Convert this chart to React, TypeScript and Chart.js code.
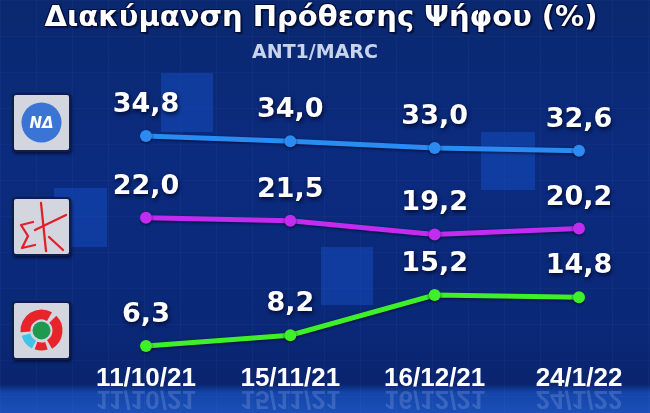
import React, { useEffect, useRef } from "react";
import { Chart, registerables } from "chart.js";

Chart.register(...registerables);

// ---- data ----
const dates = ["11/10/21", "15/11/21", "16/12/21", "24/1/22"];
const ndValues = [34.8, 34.0, 33.0, 32.6];
const syrizaValues = [22.0, 21.5, 19.2, 20.2];
const pasokValues = [6.3, 8.2, 15.2, 14.8];
const titleText = "Διακύμανση Πρόθεσης Ψήφου (%)";
const sourceText = "ANT1/MARC";

const TICK_PAD = 5;

const valueLabels = {
  id: "valueLabels",
  afterDatasetsDraw(chart: any) {
    const ctx = chart.ctx;
    ctx.save();
    ctx.font = "bold 27px 'DejaVu Sans'";
    ctx.textAlign = "center";
    ctx.textBaseline = "middle";
    ctx.fillStyle = "#ffffff";
    ctx.shadowColor = "rgba(0,5,40,0.95)";
    ctx.shadowBlur = 4;
    ctx.shadowOffsetX = 1;
    ctx.shadowOffsetY = 2;
    chart.data.datasets.forEach((ds: any, i: number) => {
      const meta = chart.getDatasetMeta(i);
      meta.data.forEach((pt: any, j: number) => {
        const v = ds.data[j] as number;
        ctx.fillText(v.toFixed(1).replace(".", ","), pt.x, pt.y - 31);
      });
    });
    ctx.restore();
  },
};

const reflection = {
  id: "reflection",
  afterDraw(chart: any) {
    const xs = chart.scales.x;
    const ctx = chart.ctx;
    ctx.save();
    ctx.font = "bold 26px 'Liberation Sans'";
    ctx.textAlign = "center";
    ctx.textBaseline = "middle";
    ctx.fillStyle = "rgba(190,210,255,0.2)";
    const center = xs.top + TICK_PAD + 13.6;
    xs.ticks.forEach((t: any, i: number) => {
      const x = xs.getPixelForTick(i);
      ctx.save();
      ctx.translate(x, center + 21);
      ctx.scale(1, -1);
      ctx.fillText(String(chart.data.labels[i]), 0, 0);
      ctx.restore();
    });
    ctx.restore();
  },
};

const lineShadow = {
  id: "lineShadow",
  beforeDatasetsDraw(chart: any) {
    const ctx = chart.ctx;
    ctx.save();
    ctx.shadowColor = "rgba(0,0,30,0.7)";
    ctx.shadowBlur = 3;
    ctx.shadowOffsetY = 1;
  },
  afterDatasetsDraw(chart: any) {
    chart.ctx.restore();
  },
};

function arcPath(cx: number, cy: number, r: number, a0: number, a1: number) {
  const rad = (d: number) => (d * Math.PI) / 180;
  const x0 = cx + r * Math.cos(rad(a0));
  const y0 = cy + r * Math.sin(rad(a0));
  const x1 = cx + r * Math.cos(rad(a1));
  const y1 = cy + r * Math.sin(rad(a1));
  const large = a1 - a0 > 180 ? 1 : 0;
  return `M ${x0} ${y0} A ${r} ${r} 0 ${large} 1 ${x1} ${y1}`;
}

const boxStyle = (top: number): React.CSSProperties => ({
  position: "absolute",
  left: 12,
  top,
  width: 59,
  height: 59,
  boxSizing: "border-box",
  background: "#d3d6de",
  border: "2px solid #0d1d50",
  borderRadius: 4,
  boxShadow: "1px 2px 3px rgba(0,0,20,0.6)",
});

const squareStyle = (l: number, t: number, r: number, b: number): React.CSSProperties => ({
  position: "absolute",
  left: l,
  top: t,
  width: r - l,
  height: b - t,
  background: "rgba(25,85,210,0.42)",
});

export default function App() {
  const ref = useRef<HTMLCanvasElement>(null);

  useEffect(() => {
    const chart = new Chart(ref.current as HTMLCanvasElement, {
      type: "line",
      data: {
        labels: dates,
        datasets: [
          {
            label: "ΝΔ",
            data: ndValues,
            yAxisID: "yND",
            borderColor: "#2a8cf2",
            backgroundColor: "#2a8cf2",
            pointBackgroundColor: "#2a8cf2",
            borderWidth: 5,
            pointRadius: 6,
            pointBorderWidth: 0,
            tension: 0,
          },
          {
            label: "ΣΥΡΙΖΑ",
            data: syrizaValues,
            yAxisID: "ySY",
            borderColor: "#c22cf0",
            backgroundColor: "#c22cf0",
            pointBackgroundColor: "#c22cf0",
            borderWidth: 5,
            pointRadius: 6,
            pointBorderWidth: 0,
            tension: 0,
          },
          {
            label: "ΚΙΝΑΛ",
            data: pasokValues,
            yAxisID: "yPA",
            borderColor: "#3ef02a",
            backgroundColor: "#3ef02a",
            pointBackgroundColor: "#3ef02a",
            borderWidth: 5,
            pointRadius: 6,
            pointBorderWidth: 0,
            tension: 0,
          },
        ],
      },
      options: {
        responsive: false,
        animation: false,
        devicePixelRatio: 1,
        layout: { padding: { left: 146, right: 71, top: 80, bottom: 13.4 } },
        plugins: {
          legend: { display: false },
          tooltip: { enabled: false },
          title: { display: false },
        },
        scales: {
          x: {
            type: "category",
            offset: false,
            grid: { display: false, drawTicks: false },
            border: { display: false },
            ticks: {
              color: "#ffffff",
              padding: TICK_PAD,
              maxRotation: 0,
              autoSkip: false,
              font: { family: "'Liberation Sans'", weight: "bold", size: 26 },
            },
          },
          yND: { type: "linear", display: false, min: 1.5, max: 43.18 },
          ySY: { type: "linear", display: false, min: -1.63, max: 45.16 },
          yPA: { type: "linear", display: false, min: 4.16, max: 52.66 },
        },
      },
      plugins: [lineShadow, valueLabels, reflection],
    } as any);
    return () => chart.destroy();
  }, []);

  return (
    <div
      style={{
        position: "fixed",
        left: 0,
        top: 0,
        width: 650,
        height: 413,
        overflow: "hidden",
        background:
          "linear-gradient(to bottom, #0a286f 0%, #0b2b7f 40%, #0a2877 80%, #0a246e 93%, #1444a8 95%, #1b50b8 100%)",
      }}
    >
      <div
        style={{
          position: "absolute",
          inset: 0,
          backgroundImage:
            "repeating-linear-gradient(to right, rgba(120,160,255,0.05) 0 1px, transparent 1px 36px), repeating-linear-gradient(to bottom, rgba(120,160,255,0.04) 0 1px, transparent 1px 36px)",
        }}
      />
      <div style={squareStyle(161, 73, 213, 132)} />
      <div style={squareStyle(54, 188, 107, 247)} />
      <div style={squareStyle(321, 247, 373, 305)} />
      <div style={squareStyle(481, 132, 535, 190)} />

      <div style={{ position: "absolute", left: 0, top: 0, width: 650, height: 413 }}>
        <canvas ref={ref} width={650} height={413} style={{ display: "block" }} />
      </div>

      <div
        style={{
          position: "absolute",
          left: 0,
          top: 0,
          width: 642,
          textAlign: "center",
          fontFamily: "'DejaVu Sans'",
          fontWeight: "bold",
          fontSize: 29,
          lineHeight: "32px",
          color: "#ffffff",
          whiteSpace: "nowrap",
          textShadow:
            "2px 2px 1px #04103a, -1px -1px 0 #04103a, 1px -1px 0 #04103a, -1px 1px 0 #04103a",
        }}
      >
        {titleText}
      </div>
      <div
        style={{
          position: "absolute",
          left: 0,
          top: 40,
          width: 630,
          textAlign: "center",
          fontFamily: "'DejaVu Sans'",
          fontWeight: "bold",
          fontSize: 19,
          lineHeight: "22px",
          color: "#c9d3ee",
        }}
      >
        {sourceText}
      </div>

      {/* ND logo */}
      <div style={boxStyle(93)}>
        <svg width={55} height={55} style={{ display: "block" }}>
          <circle cx={27.5} cy={27.5} r={20} fill="#3a74d4" />
          <text
            x={27.5}
            y={33}
            textAnchor="middle"
            fill="#ffffff"
            fontFamily="'DejaVu Sans'"
            fontWeight="bold"
            fontStyle="italic"
            fontSize={15}
          >
            ΝΔ
          </text>
        </svg>
      </div>

      {/* SYRIZA logo */}
      <div style={boxStyle(197)}>
        <svg width={55} height={55} style={{ display: "block" }}>
          <g stroke="#e0202a" strokeWidth={2.3} fill="none" strokeLinecap="round" strokeLinejoin="round">
            <path d="M 19 23 L 7 26 L 14 37 L 8 49 L 21 46" />
            <path d="M 27 4 L 32 52" />
            <path d="M 21 31 L 52 16" />
            <path d="M 35 38 L 49 51" />
          </g>
        </svg>
      </div>

      {/* PASOK logo */}
      <div style={boxStyle(301)}>
        <svg width={55} height={55} style={{ display: "block" }}>
          <path d={arcPath(27.5, 27.5, 16, 175, 300)} stroke="#e8232a" strokeWidth={10} fill="none" />
          <path d={arcPath(27.5, 27.5, 16, 315, 420)} stroke="#e8232a" strokeWidth={10} fill="none" />
          <path d={arcPath(27.5, 27.5, 16, 432, 470)} stroke="#e8232a" strokeWidth={8} fill="none" />
          <path d={arcPath(27.5, 27.5, 16, 478, 525)} stroke="#3fc3e6" strokeWidth={9} fill="none" />
          <circle cx={27.5} cy={27.5} r={9} fill="#1d9a4f" />
        </svg>
      </div>
    </div>
  );
}
